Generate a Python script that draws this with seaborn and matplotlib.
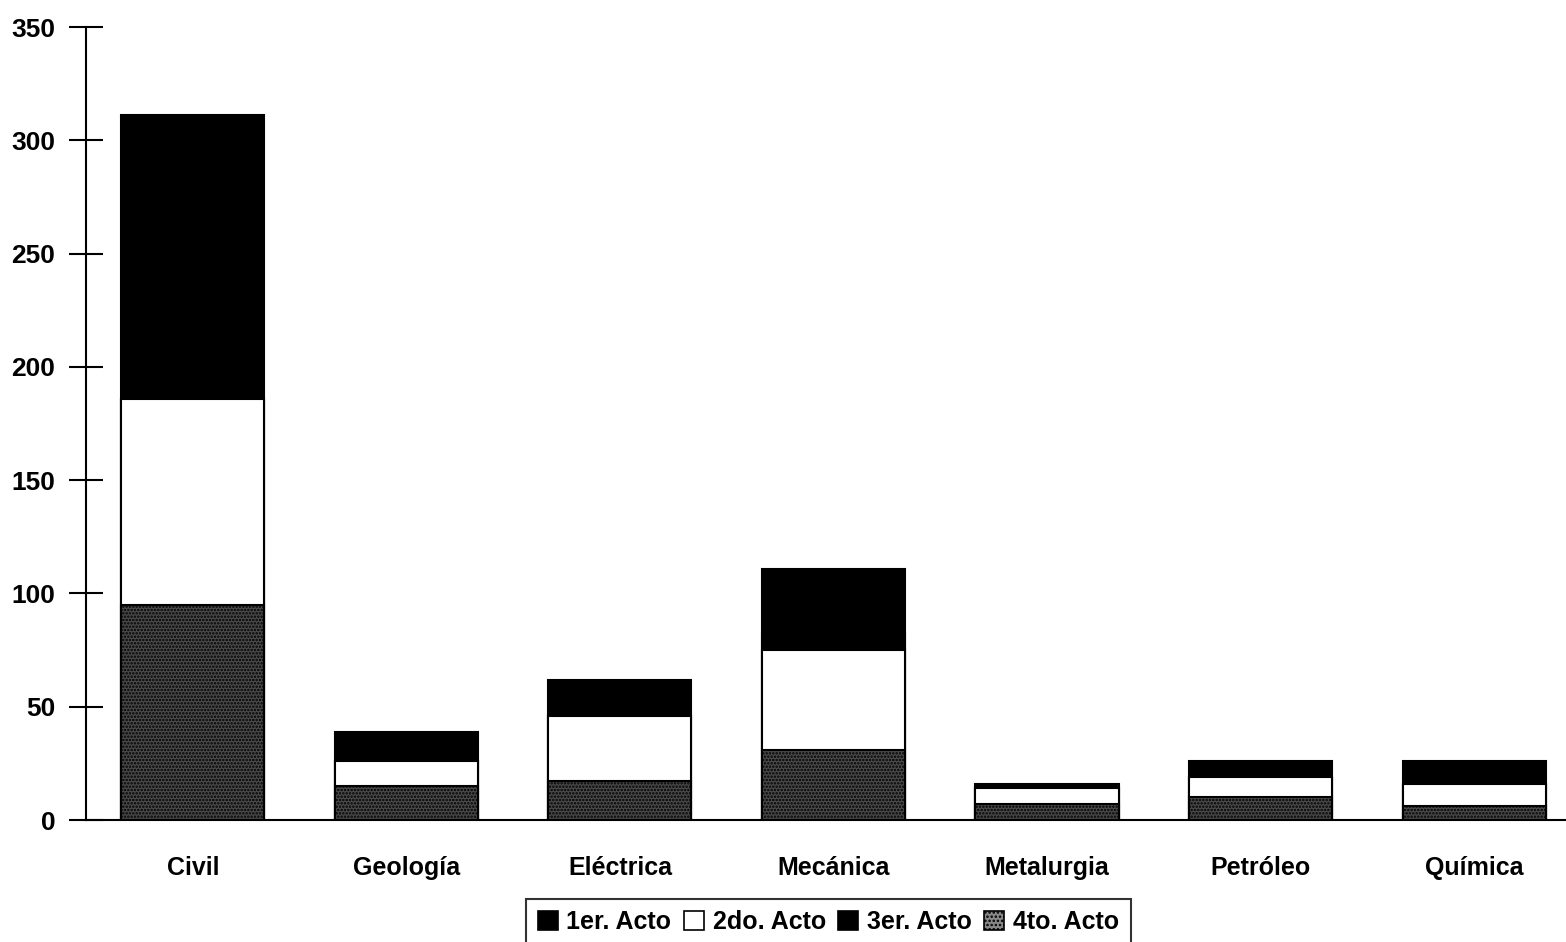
import matplotlib
matplotlib.use("Agg")
import matplotlib.pyplot as plt
import seaborn as sns
import numpy as np
from matplotlib.patches import Patch

categories = ["Civil", "Geología", "Eléctrica", "Mecánica", "Metalurgia", "Petróleo", "Química"]
series_names = ["1er. Acto", "2do. Acto", "3er. Acto", "4to. Acto"]
# stacked bottom-up: 4to (stippled), 2do (white), 3er (black), 1er (black)
acto4 = [95, 15, 17, 31, 7, 10, 6]
acto2 = [91, 11, 29, 44, 7, 9, 10]
acto3 = [0, 0, 0, 7, 0, 0, 0]
acto1 = [125, 13, 16, 29, 2, 7, 10]
y_ticks = [0, 50, 100, 150, 200, 250, 300, 350]

sns.set_theme(style="white")
plt.rcParams["font.family"] = ["Liberation Sans", "DejaVu Sans"]
plt.rcParams["font.weight"] = "bold"
plt.rcParams["text.color"] = "black"
plt.rcParams["xtick.color"] = "black"
plt.rcParams["ytick.color"] = "black"
plt.rcParams["hatch.linewidth"] = 1.2

fig = plt.figure(figsize=(15.66, 9.42), dpi=100)
fig.patch.set_facecolor("white")
ax = fig.add_axes([0.0549, 0.1295, 0.9451, 0.8418])
ax.set_facecolor("white")

c4 = np.array(acto4, dtype=float)
c2 = c4 + np.array(acto2)
c3 = c2 + np.array(acto3)
c1 = c3 + np.array(acto1)

layers = [
    (c1, "black"),
    (c3, "black"),
    (c2, "white"),
    (c4, "#4a4a4a"),
]
for vals, col in layers:
    sns.barplot(x=categories, y=vals, color=col, saturation=1, width=0.67,
                edgecolor="black", linewidth=1.5, ax=ax, order=categories)

n = len(categories)
for p in ax.patches[3 * n:4 * n]:
    p.set_hatch(".....")

ax.set_xlim(-0.5, 6.43)
ax.set_ylim(0, 350)
ax.set_yticks(y_ticks)
ax.set_xlabel("")
ax.set_ylabel("")
ax.set_xticks(range(n))
ax.set_xticklabels(categories, fontsize=18, fontweight="bold", color="black")
ax.set_xticks(np.arange(0.5, n - 0.5, 1.0), minor=True)
ax.tick_params(axis="x", which="major", length=0, pad=26)
ax.tick_params(axis="x", which="minor", direction="inout", length=26, width=1.5, color="black")
ax.tick_params(axis="y", direction="inout", length=24, width=1.5, color="black", pad=10,
               labelsize=19, left=True, labelcolor="black")
for lab in ax.get_yticklabels():
    lab.set_fontweight("bold")

for s in ["top", "right"]:
    ax.spines[s].set_visible(False)
for s in ["left", "bottom"]:
    ax.spines[s].set_color("black")
    ax.spines[s].set_linewidth(1.5)

handles = [
    Patch(facecolor="black", edgecolor="black", linewidth=1.2),
    Patch(facecolor="white", edgecolor="black", linewidth=1.2),
    Patch(facecolor="black", edgecolor="black", linewidth=1.2),
    Patch(facecolor="#8a8a8a", edgecolor="black", linewidth=1.2, hatch="...."),
]
leg = fig.legend(handles, series_names, loc="upper center", bbox_to_anchor=(0.529, 0.046),
                 ncol=4, frameon=True, fancybox=False, edgecolor="black",
                 prop={"size": 18, "weight": "bold"}, handlelength=0.8, handleheight=0.8,
                 handletextpad=0.35, columnspacing=0.5, borderpad=0.45, borderaxespad=0)
leg.get_frame().set_linewidth(1.5)

fig.savefig("out.png", dpi=100)
